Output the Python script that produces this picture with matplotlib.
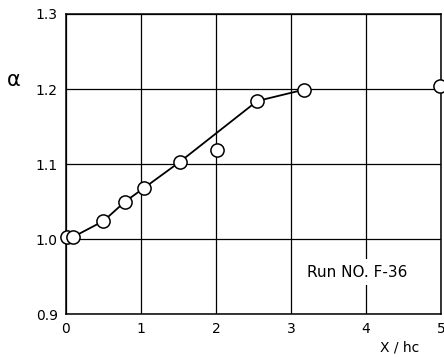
import matplotlib
matplotlib.use("Agg")
import matplotlib.pyplot as plt

# datos (Run NO. F-36)
x_pts = [0.01, 0.10, 0.50, 0.79, 1.04, 1.52, 2.02, 2.55, 3.17, 4.99]
alpha_pts = [1.003, 1.003, 1.024, 1.050, 1.068, 1.103, 1.119, 1.184, 1.199, 1.204]

# línea de tendencia dibujada a mano
x_line = [0.01, 0.10, 0.50, 0.79, 1.04, 1.52, 2.55, 3.17]
alpha_line = [1.003, 1.003, 1.024, 1.050, 1.068, 1.103, 1.184, 1.199]

x_ticks = [0, 1, 2, 3, 4, 5]
x_labels = ["0", "1", "2", "3", "4", "5"]
y_ticks = [0.9, 1.0, 1.1, 1.2, 1.3]
y_labels = ["0.9", "1.0", "1.1", "1.2", "1.3"]

fig = plt.figure(figsize=(4.44, 3.57), dpi=100)
ax = fig.add_axes([0.1486, 0.1204, 0.8446, 0.8404])

ax.plot(x_line, alpha_line, color="black", lw=1.3, zorder=3)
ax.plot(x_pts, alpha_pts, "o", ms=9.5, mfc="white", mec="black", mew=1.1,
        clip_on=False, zorder=4)

ax.set_xlim(0, 5)
ax.set_ylim(0.9, 1.3)
ax.set_xticks(x_ticks)
ax.set_xticklabels(x_labels)
ax.set_yticks(y_ticks)
ax.set_yticklabels(y_labels)
ax.tick_params(length=0, labelsize=10, pad=6)
ax.grid(True, color="black", lw=0.9)
for s in ax.spines.values():
    s.set_linewidth(1.1)

ax.text(3.22, 0.956, "Run NO. F-36", fontsize=11, va="center", ha="left",
        bbox=dict(facecolor="white", edgecolor="none", pad=4), zorder=5)

fig.text(0.90, 0.028, "X / hc", fontsize=10, ha="center", va="center")
fig.text(0.03, 0.776, "α", fontsize=15, ha="center", va="center")

fig.savefig("out.png", dpi=100)
